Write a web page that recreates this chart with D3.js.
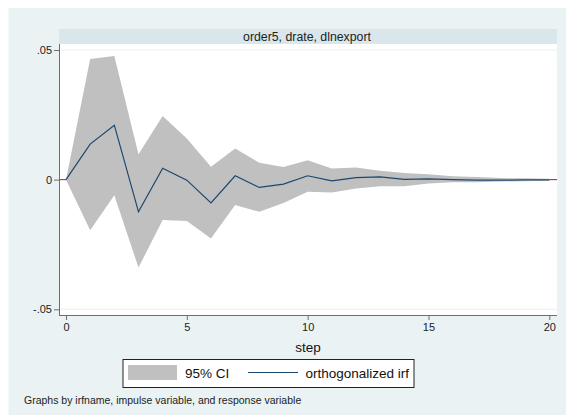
<!DOCTYPE html>
<html>
<head>
<meta charset="utf-8">
<script src="https://cdn.jsdelivr.net/npm/d3@7"></script>
<style>
  html, body { margin: 0; padding: 0; background: #ffffff; }
  svg { display: block; font-family: "Liberation Sans", Arial, sans-serif; }
</style>
</head>
<body>
<svg id="chart" width="568" height="415"></svg>
<script>
// ---- data ----
const steps = [0,1,2,3,4,5,6,7,8,9,10,11,12,13,14,15,16,17,18,19,20];
const irf   = [0, 0.0137, 0.0210, -0.0124, 0.0044, -0.0002, -0.0090, 0.0015, -0.0030, -0.0017, 0.0015,
               -0.0005, 0.0008, 0.0011, 0.0001, 0.0003, 0.0000, -0.0002, -0.0002, -0.0001, -0.0001];
const ciUpper = [0, 0.0465, 0.0477, 0.0098, 0.0245, 0.0159, 0.0050, 0.0120, 0.0065, 0.0049, 0.0075,
                 0.0043, 0.0047, 0.0034, 0.0026, 0.0021, 0.0013, 0.0010, 0.0006, 0.0005, 0.0003];
const ciLower = [0, -0.0195, -0.0060, -0.0339, -0.0156, -0.0159, -0.0227, -0.0098, -0.0124, -0.0090, -0.0047,
                 -0.0050, -0.0034, -0.0025, -0.0025, -0.0015, -0.0010, -0.0010, -0.0007, -0.0006, -0.0004];
const xTicks = [0, 5, 10, 15, 20];
const yTicks = [0.05, 0, -0.05];
const yTickLabels = [".05", "0", "-.05"];
const titleText = "order5, drate, dlnexport";
const xLabel = "step";
const legendLabels = ["95% CI", "orthogonalized irf"];
const noteText = "Graphs by irfname, impulse variable, and response variable";

// ---- layout ----
const svg = d3.select("#chart");
const plotL = 59, plotR = 557, plotT = 44, plotB = 315;
const x = d3.scaleLinear().domain([0, 20]).range([66, 549.3]);
const y = d3.scaleLinear().domain([-0.05, 0.05]).range([309.3, 50]);

const bgColor = "#eaf2f3";
const stripColor = "#d9e6eb";
const ciColor = "#c0c0c0";
const lineColor = "#1a476f";
const axisColor = "#6e6e6e";

// outer graph region
svg.append("rect").attr("x", 8.5).attr("y", 8).attr("width", 557.5).attr("height", 407).attr("fill", bgColor);

// title strip
svg.append("rect").attr("x", plotL).attr("y", 29).attr("width", plotR - plotL).attr("height", plotT - 29).attr("fill", stripColor);
svg.append("text").attr("x", (plotL + plotR) / 2 - 1).attr("y", 40.5).attr("text-anchor", "middle")
  .attr("font-size", 12.3).attr("fill", "#222").text(titleText);

// plot region
svg.append("rect").attr("x", plotL).attr("y", plotT).attr("width", plotR - plotL).attr("height", plotB - plotT).attr("fill", "#ffffff");

// grid lines
svg.append("g").selectAll("line").data(yTicks).join("line")
  .attr("x1", plotL).attr("x2", plotR)
  .attr("y1", d => y(d)).attr("y2", d => y(d))
  .attr("stroke", bgColor).attr("stroke-width", 1);

// reference line at 0
svg.append("line").attr("x1", plotL).attr("x2", plotR).attr("y1", y(0)).attr("y2", y(0))
  .attr("stroke", "#c8102e").attr("stroke-width", 1);

// CI area
const area = d3.area().x((d, i) => x(steps[i])).y0((d, i) => y(ciLower[i])).y1((d, i) => y(ciUpper[i]));
svg.append("path").datum(steps).attr("d", area).attr("fill", ciColor);

// irf line
const line = d3.line().x((d, i) => x(steps[i])).y((d, i) => y(irf[i]));
svg.append("path").datum(steps).attr("d", line).attr("fill", "none")
  .attr("stroke", lineColor).attr("stroke-width", 1.2);

// y axis
const yAxis = d3.axisLeft(y).tickValues(yTicks).tickSize(5).tickPadding(2)
  .tickFormat((d, i) => yTickLabels[i]);
const gy = svg.append("g").attr("transform", `translate(${plotL},0)`).call(yAxis);
gy.select(".domain").remove();
gy.selectAll(".tick line").attr("stroke", axisColor);
gy.selectAll(".tick text").attr("font-size", 11).attr("fill", "#222")
  .attr("font-family", "Liberation Sans, Arial, sans-serif");
svg.append("line").attr("x1", plotL + 0.5).attr("x2", plotL + 0.5).attr("y1", plotT).attr("y2", plotB)
  .attr("stroke", axisColor).attr("stroke-width", 1);

// x axis
const xAxis = d3.axisBottom(x).tickValues(xTicks).tickSize(5).tickPadding(3).tickFormat(d3.format("d"));
const gx = svg.append("g").attr("transform", `translate(0,${plotB})`).call(xAxis);
gx.select(".domain").remove();
gx.selectAll(".tick line").attr("stroke", axisColor);
gx.selectAll(".tick text").attr("font-size", 11).attr("fill", "#222")
  .attr("font-family", "Liberation Sans, Arial, sans-serif");
svg.append("line").attr("x1", plotL).attr("x2", plotR).attr("y1", plotB + 0.5).attr("y2", plotB + 0.5)
  .attr("stroke", axisColor).attr("stroke-width", 1);

// x label
svg.append("text").attr("x", (plotL + plotR) / 2).attr("y", 351.5).attr("text-anchor", "middle")
  .attr("font-size", 13.5).attr("fill", "#111").text(xLabel);

// legend
const lg = svg.append("g");
lg.append("rect").attr("x", 123).attr("y", 359.5).attr("width", 291).attr("height", 28)
  .attr("fill", "#ffffff").attr("stroke", "#222").attr("stroke-width", 1);
lg.append("rect").attr("x", 128).attr("y", 365).attr("width", 49).attr("height", 15).attr("fill", ciColor);
lg.append("text").attr("x", 185).attr("y", 377.5).attr("font-size", 13.5).attr("fill", "#111").text(legendLabels[0]);
lg.append("line").attr("x1", 248).attr("x2", 298).attr("y1", 372.5).attr("y2", 372.5)
  .attr("stroke", lineColor).attr("stroke-width", 1.2);
lg.append("text").attr("x", 305.5).attr("y", 377.5).attr("font-size", 13.5).attr("fill", "#111").text(legendLabels[1]);

// note
svg.append("text").attr("x", 24).attr("y", 403.5).attr("font-size", 10.5).attr("fill", "#222").text(noteText);
</script>
</body>
</html>
